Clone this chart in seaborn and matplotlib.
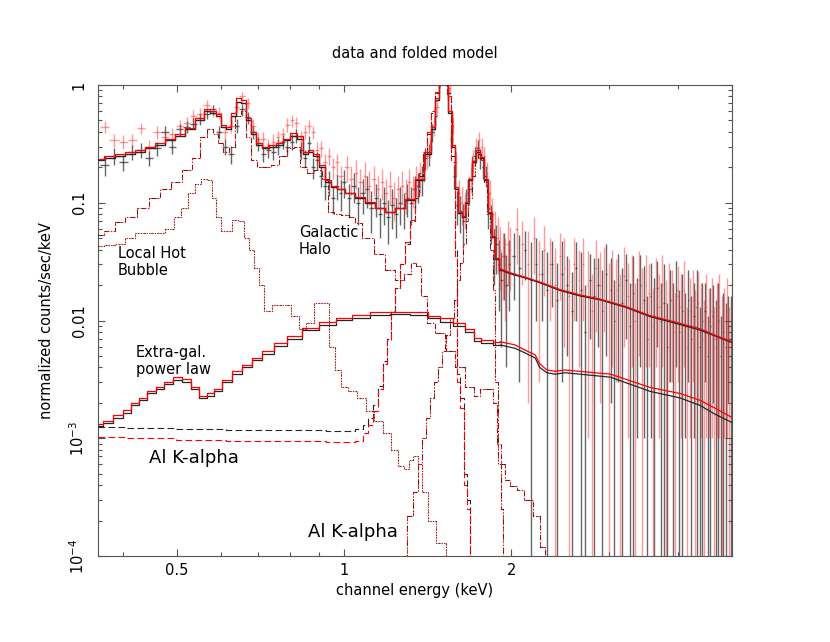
import numpy as np
import pandas as pd
import matplotlib
matplotlib.use("Agg")
import matplotlib.pyplot as plt
import seaborn as sns


# =============================================================================
# Values (energy in keV, normalized counts/sec/keV)
# =============================================================================

## Data channels (bin centres)
data_E_low = [0.37, 0.385, 0.40, 0.415, 0.43, 0.445, 0.46, 0.475, 0.49, 0.505,
              0.52, 0.535, 0.55, 0.565, 0.58, 0.595, 0.61, 0.625, 0.64, 0.655,
              0.67, 0.685, 0.70, 0.715, 0.73, 0.745, 0.76, 0.775, 0.79, 0.805,
              0.82, 0.835, 0.85, 0.865, 0.88, 0.895, 0.91, 0.925, 0.94, 0.955,
              0.97, 0.985]
black_E_mid = [1.00, 1.02, 1.04, 1.06, 1.08, 1.10, 1.12, 1.14, 1.16, 1.18,
               1.20, 1.22, 1.24, 1.26, 1.28, 1.30, 1.32, 1.34, 1.36, 1.38,
               1.40, 1.42, 1.44, 1.46, 1.48, 1.50, 1.52, 1.54, 1.56, 1.58,
               1.60, 1.62, 1.64, 1.66, 1.68, 1.70, 1.72, 1.74, 1.76, 1.78,
               1.80, 1.82, 1.84, 1.86, 1.88, 1.90, 1.92, 1.94, 1.96, 1.98]
red_E_mid = [1.01, 1.03, 1.05, 1.07, 1.09, 1.11, 1.13, 1.15, 1.17, 1.19,
             1.21, 1.23, 1.25, 1.27, 1.29, 1.31, 1.33, 1.35, 1.37, 1.39,
             1.41, 1.43, 1.45, 1.47, 1.49, 1.51, 1.53, 1.55, 1.57, 1.59,
             1.61, 1.63, 1.65, 1.67, 1.69, 1.71, 1.73, 1.75, 1.77, 1.79,
             1.81, 1.83, 1.85, 1.87, 1.89, 1.91, 1.93, 1.95, 1.97, 1.99]
black_E_high = [2.02, 2.07, 2.12, 2.17, 2.22, 2.27, 2.32, 2.37, 2.42, 2.47,
                2.52, 2.57, 2.62, 2.67, 2.72, 2.77, 2.82, 2.87, 2.92, 2.97,
                3.02, 3.07, 3.12, 3.17, 3.22, 3.27, 3.32, 3.37, 3.42, 3.47,
                3.52, 3.57, 3.62, 3.67, 3.72, 3.77, 3.82, 3.87, 3.92, 3.97,
                4.02, 4.07, 4.12, 4.17, 4.22, 4.27, 4.32, 4.37, 4.42, 4.47,
                4.52, 4.57, 4.62, 4.67, 4.72, 4.77, 4.82, 4.87, 4.92, 4.97]
red_E_high = [2.045, 2.095, 2.145, 2.195, 2.245, 2.295, 2.345, 2.395, 2.445, 2.495,
              2.545, 2.595, 2.645, 2.695, 2.745, 2.795, 2.845, 2.895, 2.945, 2.995,
              3.045, 3.095, 3.145, 3.195, 3.245, 3.295, 3.345, 3.395, 3.445, 3.495,
              3.545, 3.595, 3.645, 3.695, 3.745, 3.795, 3.845, 3.895, 3.945, 3.995,
              4.045, 4.095, 4.145, 4.195, 4.245, 4.295, 4.345, 4.395, 4.445, 4.495,
              4.545, 4.595, 4.645, 4.695, 4.745, 4.795, 4.845, 4.895, 4.945, 4.99]

## Black data set
black_low = [0.21, 0.25, 0.22, 0.27, 0.28, 0.24, 0.29, 0.40, 0.30, 0.42,
             0.44, 0.47, 0.52, 0.57, 0.62, 0.40, 0.30, 0.26, 0.45, 0.62,
             0.53, 0.40, 0.32, 0.26, 0.28, 0.27, 0.30, 0.33, 0.30, 0.33,
             0.37, 0.28, 0.24, 0.32, 0.20, 0.23, 0.17, 0.14, 0.15, 0.11,
             0.14, 0.12]
black_low_err = [0.04, 0.04, 0.035, 0.04, 0.04, 0.035, 0.04, 0.05, 0.04, 0.05,
                 0.05, 0.05, 0.06, 0.06, 0.06, 0.05, 0.045, 0.045, 0.06, 0.07,
                 0.06, 0.05, 0.045, 0.04, 0.04, 0.04, 0.045, 0.045, 0.045, 0.05,
                 0.05, 0.045, 0.04, 0.05, 0.04, 0.04, 0.035, 0.035, 0.035, 0.03,
                 0.035, 0.035]
black_mid = [0.15, 0.11, 0.14, 0.10, 0.12, 0.13, 0.09, 0.11, 0.08, 0.10,
             0.075, 0.095, 0.08, 0.10, 0.09, 0.11, 0.10, 0.13, 0.14, 0.16,
             0.24, 0.26, 0.40, 0.55, 1.05, 1.3, 1.4, 0.85, 0.35, 0.17,
             0.095, 0.085, 0.07, 0.10, 0.13, 0.21, 0.25, 0.29, 0.24, 0.20,
             0.17, 0.09, 0.07, 0.04, 0.045, 0.03, 0.022, 0.035, 0.02, 0.03]
black_mid_err = [0.04, 0.035, 0.04, 0.035, 0.04, 0.04, 0.035, 0.035, 0.03, 0.035,
                 0.03, 0.035, 0.03, 0.035, 0.03, 0.035, 0.035, 0.04, 0.04, 0.045,
                 0.05, 0.055, 0.07, 0.09, 0.12, 0.13, 0.13, 0.1, 0.06, 0.04,
                 0.03, 0.03, 0.028, 0.03, 0.035, 0.04, 0.045, 0.05, 0.045, 0.04,
                 0.035, 0.03, 0.025, 0.02, 0.02, 0.018, 0.016, 0.02, 0.016, 0.018]
black_high = [0.035, 0.028, 0.04, 0.022, 0.03, 0.025, 0.018, 0.03, 0.015, 0.025,
              0.02, 0.012, 0.028, 0.018, 0.008, 0.022, 0.016, 0.02, 0.012, 0.025,
              0.018, 0.01, 0.02, 0.014, 0.022, 0.009, 0.017, 0.012, 0.02, 0.015,
              0.007, 0.016, 0.011, 0.019, 0.01, 0.014, 0.006, 0.015, 0.01, 0.018,
              0.008, 0.012, 0.009, 0.015, 0.007, 0.011, 0.013, 0.006, 0.01, 0.012,
              0.005, 0.009, 0.011, 0.007, 0.01, 0.005, 0.008, 0.006, 0.009, 0.007]
black_high_err = [0.02, 0.025, 0.018, 0.024, 0.02, 0.015, 0.02, 0.017, 0.016, 0.022,
                  0.015, 0.014, 0.018, 0.02, 0.012, 0.015, 0.018, 0.014, 0.015, 0.02,
                  0.016, 0.012, 0.017, 0.014, 0.015, 0.012, 0.018, 0.011, 0.016, 0.014,
                  0.009, 0.015, 0.012, 0.013, 0.011, 0.016, 0.008, 0.012, 0.011, 0.014,
                  0.01, 0.013, 0.008, 0.012, 0.009, 0.01, 0.014, 0.007, 0.011, 0.009,
                  0.006, 0.01, 0.009, 0.008, 0.011, 0.006, 0.009, 0.008, 0.007, 0.009]

## Red data set
red_low = [0.44, 0.34, 0.33, 0.34, 0.43, 0.30, 0.40, 0.36, 0.38, 0.45,
           0.48, 0.55, 0.57, 0.68, 0.60, 0.58, 0.40, 0.45, 0.65, 0.80,
           0.70, 0.45, 0.35, 0.35, 0.30, 0.33, 0.36, 0.38, 0.46, 0.50,
           0.48, 0.36, 0.40, 0.45, 0.40, 0.28, 0.29, 0.22, 0.25, 0.20,
           0.22, 0.17]
red_low_err = [0.05, 0.045, 0.045, 0.045, 0.05, 0.04, 0.05, 0.05, 0.05, 0.055,
               0.06, 0.06, 0.065, 0.07, 0.07, 0.065, 0.05, 0.055, 0.07, 0.08,
               0.075, 0.06, 0.05, 0.05, 0.045, 0.05, 0.05, 0.055, 0.06, 0.06,
               0.06, 0.05, 0.055, 0.055, 0.05, 0.045, 0.045, 0.04, 0.04, 0.04,
               0.04, 0.035]
red_mid = [0.20, 0.16, 0.18, 0.15, 0.17, 0.14, 0.16, 0.13, 0.15, 0.12,
           0.14, 0.11, 0.13, 0.14, 0.12, 0.15, 0.13, 0.16, 0.17, 0.20,
           0.25, 0.30, 0.45, 0.65, 1.1, 1.5, 1.5, 0.95, 0.45, 0.22,
           0.12, 0.10, 0.09, 0.12, 0.16, 0.23, 0.30, 0.34, 0.30, 0.25,
           0.18, 0.12, 0.08, 0.06, 0.05, 0.04, 0.035, 0.03, 0.045, 0.04]
red_mid_err = [0.05, 0.045, 0.05, 0.045, 0.05, 0.045, 0.045, 0.04, 0.045, 0.04,
               0.045, 0.04, 0.04, 0.045, 0.04, 0.045, 0.04, 0.045, 0.05, 0.05,
               0.055, 0.06, 0.08, 0.1, 0.13, 0.15, 0.15, 0.11, 0.07, 0.05,
               0.035, 0.035, 0.03, 0.035, 0.04, 0.05, 0.055, 0.06, 0.055, 0.05,
               0.04, 0.035, 0.03, 0.025, 0.025, 0.022, 0.02, 0.02, 0.025, 0.022]
red_high = [0.06, 0.045, 0.03, 0.05, 0.025, 0.04, 0.03, 0.02, 0.035, 0.028,
            0.016, 0.03, 0.022, 0.03, 0.02, 0.012, 0.028, 0.02, 0.025, 0.015,
            0.022, 0.018, 0.012, 0.024, 0.016, 0.02, 0.01, 0.022, 0.014, 0.02,
            0.017, 0.009, 0.019, 0.013, 0.02, 0.011, 0.017, 0.015, 0.008, 0.016,
            0.013, 0.018, 0.006, 0.012, 0.015, 0.009, 0.014, 0.011, 0.007, 0.013,
            0.01, 0.012, 0.006, 0.011, 0.013, 0.008, 0.01, 0.012, 0.006, 0.011]
red_high_err = [0.03, 0.025, 0.028, 0.025, 0.022, 0.024, 0.02, 0.021, 0.02, 0.022,
                0.017, 0.02, 0.018, 0.02, 0.019, 0.013, 0.02, 0.018, 0.017, 0.016,
                0.018, 0.015, 0.013, 0.018, 0.015, 0.016, 0.011, 0.017, 0.014, 0.016,
                0.013, 0.01, 0.015, 0.012, 0.016, 0.011, 0.014, 0.012, 0.009, 0.013,
                0.012, 0.014, 0.007, 0.011, 0.012, 0.009, 0.012, 0.01, 0.008, 0.012,
                0.009, 0.011, 0.007, 0.01, 0.012, 0.008, 0.009, 0.011, 0.007, 0.01]

## Total folded model
total_E = [0.36, 0.379, 0.395, 0.412, 0.429, 0.447, 0.466, 0.486, 0.506, 0.528,
           0.55, 0.566, 0.58, 0.593, 0.606, 0.618, 0.631, 0.644, 0.658, 0.671,
           0.685, 0.70, 0.72, 0.742, 0.764, 0.786, 0.81, 0.833, 0.85, 0.868,
           0.89, 0.913, 0.936, 0.96, 0.984, 1.025, 1.069, 1.114, 1.161, 1.21,
           1.262, 1.315, 1.371, 1.418, 1.446, 1.47, 1.495, 1.527, 1.552, 1.571,
           1.592, 1.618, 1.638, 1.664, 1.686, 1.715, 1.744, 1.774, 1.803, 1.832,
           1.856, 1.887, 1.91, 1.99, 2.12, 2.25, 2.45, 2.66, 2.89, 3.21,
           3.56, 3.95, 4.38, 4.66, 5.0]
total_black = [0.23, 0.24, 0.25, 0.26, 0.27, 0.29, 0.31, 0.34, 0.37, 0.42,
               0.50, 0.60, 0.58, 0.55, 0.44, 0.42, 0.55, 0.72, 0.70, 0.50,
               0.38, 0.31, 0.29, 0.30, 0.31, 0.34, 0.37, 0.35, 0.26, 0.27,
               0.25, 0.20, 0.15, 0.135, 0.13, 0.12, 0.11, 0.10, 0.09, 0.083,
               0.09, 0.106, 0.156, 0.26, 0.42, 0.75, 1.4, 1.3, 0.58, 0.30,
               0.13, 0.082, 0.076, 0.10, 0.156, 0.22, 0.27, 0.24, 0.156, 0.082,
               0.051, 0.033, 0.027, 0.025, 0.023, 0.021, 0.018, 0.0162, 0.015, 0.013,
               0.0108, 0.0095, 0.0083, 0.0074, 0.0065]
total_red = [0.235, 0.25, 0.26, 0.27, 0.28, 0.30, 0.32, 0.35, 0.38, 0.43,
             0.52, 0.63, 0.60, 0.57, 0.46, 0.44, 0.58, 0.78, 0.75, 0.52,
             0.40, 0.32, 0.30, 0.31, 0.32, 0.35, 0.39, 0.37, 0.27, 0.28,
             0.26, 0.21, 0.155, 0.138, 0.132, 0.122, 0.112, 0.101, 0.091, 0.084,
             0.091, 0.108, 0.16, 0.27, 0.44, 0.78, 1.45, 1.35, 0.60, 0.31,
             0.135, 0.084, 0.077, 0.102, 0.16, 0.225, 0.28, 0.245, 0.16, 0.084,
             0.052, 0.034, 0.0275, 0.0255, 0.0233, 0.0213, 0.0183, 0.0165, 0.0152, 0.0132,
             0.011, 0.0097, 0.0085, 0.0075, 0.0066]

## Extra-galactic power law
pl_E = [0.36, 0.375, 0.392, 0.407, 0.42, 0.434, 0.45, 0.466, 0.482, 0.5,
        0.52, 0.539, 0.557, 0.574, 0.59, 0.615, 0.641, 0.668, 0.697, 0.726,
        0.767, 0.809, 0.868, 0.932, 1.0, 1.069, 1.161, 1.262, 1.371, 1.46,
        1.52, 1.618, 1.686, 1.737, 1.795, 1.91, 2.033, 2.12, 2.21, 2.25,
        2.32, 2.4, 2.5, 2.66, 3.02, 3.56, 4.03, 4.38, 4.66, 5.0]
pl_black = [0.00128, 0.00135, 0.0015, 0.00165, 0.0019, 0.0021, 0.0024, 0.0026, 0.0029, 0.0031,
            0.0030, 0.0026, 0.0022, 0.0023, 0.0025, 0.0030, 0.0035, 0.0040, 0.0046, 0.0052,
            0.0061, 0.0070, 0.0083, 0.0092, 0.0101, 0.0106, 0.0111, 0.0113, 0.0111, 0.0104,
            0.0098, 0.0090, 0.0080, 0.0067, 0.0064, 0.0062, 0.0058, 0.0053, 0.0048, 0.0040,
            0.0036, 0.0035, 0.0036, 0.0035, 0.0033, 0.0025, 0.0022, 0.0019, 0.0016, 0.00136]
pl_red = [0.00132, 0.0014, 0.00157, 0.00173, 0.002, 0.0022, 0.0025, 0.0027, 0.003, 0.0033,
          0.0032, 0.0027, 0.0023, 0.0024, 0.0026, 0.0031, 0.0037, 0.0042, 0.0048, 0.0055,
          0.0064, 0.0074, 0.0087, 0.0097, 0.0106, 0.0111, 0.0117, 0.0119, 0.0117, 0.011,
          0.0104, 0.0095, 0.0085, 0.0071, 0.0068, 0.0066, 0.0062, 0.0056, 0.0051, 0.0043,
          0.0038, 0.0037, 0.0038, 0.0037, 0.0035, 0.0027, 0.0024, 0.0021, 0.0018, 0.0015]

## Galactic halo
gh_E = [0.36, 0.379, 0.395, 0.412, 0.434, 0.456, 0.476, 0.5, 0.52, 0.543,
        0.557, 0.574, 0.586, 0.598, 0.61, 0.628, 0.644, 0.658, 0.671, 0.685,
        0.706, 0.726, 0.751, 0.777, 0.8, 0.823, 0.843, 0.868, 0.898, 0.924,
        0.947, 0.971, 1.004, 1.034, 1.055, 1.1, 1.161, 1.21, 1.262, 1.3,
        1.337, 1.36, 1.388, 1.429, 1.489, 1.552, 1.618, 1.686, 1.737, 1.781,
        1.832, 1.87, 1.895, 1.936, 1.968, 2.02, 2.075, 2.14, 2.23, 2.28, 2.33]
gh_vals = [0.053, 0.058, 0.068, 0.076, 0.09, 0.11, 0.13, 0.15, 0.19, 0.24,
           0.36, 0.42, 0.38, 0.32, 0.27, 0.3, 0.55, 0.6, 0.36, 0.23,
           0.2, 0.2, 0.21, 0.25, 0.29, 0.3, 0.2, 0.18, 0.19, 0.16,
           0.083, 0.08, 0.079, 0.075, 0.067, 0.05, 0.037, 0.027, 0.022, 0.025,
           0.031, 0.029, 0.016, 0.0095, 0.0078, 0.0055, 0.004, 0.0027, 0.0023, 0.0026,
           0.0026, 0.002, 0.0009, 0.0006, 0.00044, 0.00039, 0.00036, 0.0003, 0.00022, 0.00012,
           0.00008]

## Local hot bubble
lhb_E = [0.36, 0.379, 0.395, 0.412, 0.429, 0.447, 0.466, 0.486, 0.502, 0.516,
         0.53, 0.545, 0.56, 0.574, 0.583, 0.593, 0.606, 0.62, 0.636, 0.652,
         0.668, 0.68, 0.694, 0.709, 0.726, 0.757, 0.789, 0.815, 0.84, 0.868,
         0.898, 0.928, 0.951, 0.971, 1.0, 1.034, 1.078, 1.114, 1.151, 1.195,
         1.23, 1.267, 1.293, 1.32, 1.343, 1.371, 1.394, 1.435, 1.495, 1.552]
lhb_vals = [0.043, 0.044, 0.045, 0.05, 0.055, 0.055, 0.055, 0.06, 0.075, 0.09,
            0.12, 0.145, 0.16, 0.156, 0.11, 0.075, 0.058, 0.058, 0.072, 0.07,
            0.05, 0.04, 0.028, 0.02, 0.012, 0.0135, 0.0135, 0.011, 0.0085, 0.0095,
            0.014, 0.014, 0.006, 0.0038, 0.0027, 0.0025, 0.0022, 0.0017, 0.0014, 0.0011,
            0.0008, 0.00058, 0.00055, 0.00065, 0.0007, 0.0006, 0.00035, 0.0002, 0.00013, 0.0001]

## Al K-alpha instrumental line
al_E = [0.36, 0.447, 0.55, 0.677, 0.833, 1.025, 1.069, 1.096, 1.114, 1.137,
        1.161, 1.186, 1.205, 1.225, 1.246, 1.272, 1.299, 1.326, 1.354, 1.377,
        1.399, 1.423, 1.446, 1.47, 1.495, 1.521, 1.546, 1.571, 1.592, 1.605,
        1.631, 1.651, 1.672, 1.693]
al_black = [0.00125, 0.00122, 0.0012, 0.00118, 0.00117, 0.00116, 0.0012, 0.0013, 0.0015, 0.0019,
            0.0028, 0.0045, 0.007, 0.012, 0.019, 0.03, 0.045, 0.07, 0.11, 0.17,
            0.26, 0.38, 0.58, 0.85, 1.25, 1.3, 0.85, 0.25, 0.04, 0.0035,
            0.0022, 0.0005, 0.0003, 0.00008]
al_red = [0.00102, 0.001, 0.00097, 0.00095, 0.00094, 0.00093, 0.00095, 0.0011, 0.0013, 0.0017,
          0.0026, 0.0043, 0.0068, 0.0118, 0.019, 0.03, 0.046, 0.072, 0.115, 0.18,
          0.27, 0.4, 0.6, 0.88, 1.3, 1.3, 0.8, 0.22, 0.035, 0.003,
          0.0018, 0.0004, 0.00025, 0.00008]

## Second instrumental line (near 1.74 keV)
si_E = [1.277, 1.315, 1.343, 1.371, 1.394, 1.418, 1.44, 1.464, 1.489, 1.514,
        1.54, 1.565, 1.585, 1.605, 1.624, 1.645, 1.664, 1.686, 1.707, 1.729,
        1.751, 1.774, 1.795, 1.817, 1.84, 1.863, 1.879, 1.902, 1.927, 1.944]
si_vals = [0.0001, 0.00022, 0.00035, 0.0006, 0.001, 0.0015, 0.0022, 0.003, 0.004, 0.0055,
           0.0075, 0.0105, 0.015, 0.022, 0.031, 0.045, 0.07, 0.11, 0.17, 0.24,
           0.26, 0.23, 0.15, 0.08, 0.04, 0.018, 0.003, 0.0006, 0.00025, 0.00008]

## Axis ticks
x_major = [0.5, 1, 2]
x_major_labels = ["0.5", "1", "2"]
x_minor = [0.4, 0.6, 0.7, 0.8, 0.9, 3, 4, 5]
y_major = [1e-4, 1e-3, 1e-2, 1e-1, 1]
y_major_labels = ["$10^{-4}$", "$10^{-3}$", "0.01", "0.1", "1"]


# =============================================================================
# Figure setup
# =============================================================================
sns.set_style("ticks")
plt.rcParams["font.family"] = ["DejaVu Sans"]
plt.rcParams["mathtext.fontset"] = "dejavusans"
plt.rcParams["text.color"] = "black"
plt.rcParams["axes.labelcolor"] = "black"

BLACK = "#262626"
RED = "#ff0000"

fig = plt.figure(figsize=(8.3, 6.42), dpi=100)
ax = fig.add_axes([98 / 830, 1 - 556 / 642, (732 - 98) / 830, (556 - 85) / 642])
ax.set_xscale("log")
ax.set_yscale("log")


## Data with error bars
def plot_data(E, V, S, color, alpha):
    E = np.array(E)
    V = np.array(V)
    S = np.array(S)
    half_w = np.minimum(np.gradient(E) / 2, 0.01)
    lo = np.minimum(S, V - 1e-7)   # bars that reach zero run off the bottom
    ax.errorbar(E, V, yerr=[lo, S], xerr=half_w, fmt="none",
                ecolor=color, elinewidth=1.0, alpha=alpha, capsize=0, zorder=1)


plot_data(data_E_low + black_E_mid + black_E_high,
          black_low + black_mid + black_high,
          black_low_err + black_mid_err + black_high_err, "#333333", 0.75)
plot_data(data_E_low + red_E_mid + red_E_high,
          red_low + red_mid + red_high,
          red_low_err + red_mid_err + red_high_err, "#ff3333", 0.5)


## Model curves (histogram steps, smooth beyond ~1.9 keV)
def draw_model(E, V, color, ls, lw=0.9, smooth_from=None):
    df = pd.DataFrame({"E": E, "V": V})
    parts = [(df, "steps-mid")]
    if smooth_from is not None:
        parts = [(df[df.E <= smooth_from], "steps-mid"),
                 (df[df.E >= smooth_from], "default")]
    for part, dstyle in parts:
        sns.lineplot(data=part, x="E", y="V", ax=ax, color=color,
                     linestyle=ls, linewidth=lw, drawstyle=dstyle,
                     estimator=None, sort=False, legend=False, zorder=3)


draw_model(lhb_E, lhb_vals, BLACK, (0, (1, 1.5)), lw=0.8)
draw_model(lhb_E, lhb_vals, RED, (1.2, (1, 1.5)), lw=0.6)
draw_model(gh_E, gh_vals, BLACK, (0, (4, 2, 1, 2)), lw=0.8)
draw_model(gh_E, gh_vals, RED, (4, (4, 2, 1, 2)), lw=0.6)
draw_model(al_E, al_black, BLACK, (0, (6, 3)), lw=0.8)
draw_model(al_E, al_red, RED, (0, (6, 3)), lw=0.8)
draw_model(si_E, si_vals, BLACK, (0, (5, 2, 1, 2, 1, 2)), lw=0.8)
draw_model(si_E, si_vals, RED, (5, (5, 2, 1, 2, 1, 2)), lw=0.6)
draw_model(pl_E, pl_black, BLACK, "-", lw=0.9, smooth_from=1.91)
draw_model(pl_E, pl_red, RED, "-", lw=0.9, smooth_from=1.91)
draw_model(total_E, total_black, BLACK, "-", lw=1.0, smooth_from=1.91)
draw_model(total_E, total_red, RED, "-", lw=0.9, smooth_from=1.91)


# =============================================================================
# Axes, ticks, labels
# =============================================================================
ax.set_xlim(0.36, 5.0)
ax.set_ylim(1e-4, 1)

ax.set_xticks(x_major)
ax.set_xticklabels(x_major_labels)
ax.set_xticks(x_minor, minor=True)
ax.set_xticklabels([""] * len(x_minor), minor=True)
ax.set_yticks(y_major)
ax.set_yticklabels(y_major_labels)
ax.yaxis.set_minor_locator(matplotlib.ticker.LogLocator(base=10, subs=np.arange(2, 10)))
ax.yaxis.set_minor_formatter(matplotlib.ticker.NullFormatter())

ax.tick_params(which="both", direction="in", top=True, right=True,
               color="#555555", labelcolor="black", width=0.8, labelsize=10.5)
ax.tick_params(which="major", length=5)
ax.tick_params(which="minor", length=3)
ax.tick_params(axis="x", pad=5)
ax.tick_params(axis="y", pad=8, labelrotation=90)
for lbl in ax.get_yticklabels():
    lbl.set_va("center")

for sp in ax.spines.values():
    sp.set_color("#555555")
    sp.set_linewidth(0.8)

ax.set_xlabel("channel energy (keV)", fontsize=10.5, labelpad=4)
ax.set_ylabel("normalized counts/sec/keV", fontsize=10.5, labelpad=10)
fig.text(415 / 830, 1 - 54 / 642, "data and folded model",
         ha="center", va="center", fontsize=10.5)

## Component labels
ax.text(0.391, 0.043, "Local Hot\nBubble", fontsize=10.5, ha="left", va="top")
ax.text(0.829, 0.0647, "Galactic\nHalo", fontsize=10.5, ha="left", va="top")
ax.text(0.4217, 0.0062, "Extra-gal.\npower law", fontsize=10.5, ha="left", va="top")
ax.text(0.4454, 6.17e-4, "Al K-alpha", fontsize=13, ha="left", va="baseline")
ax.text(0.861, 1.45e-4, "Al K-alpha", fontsize=13, ha="left", va="baseline")

fig.savefig("out.png", dpi=100)
